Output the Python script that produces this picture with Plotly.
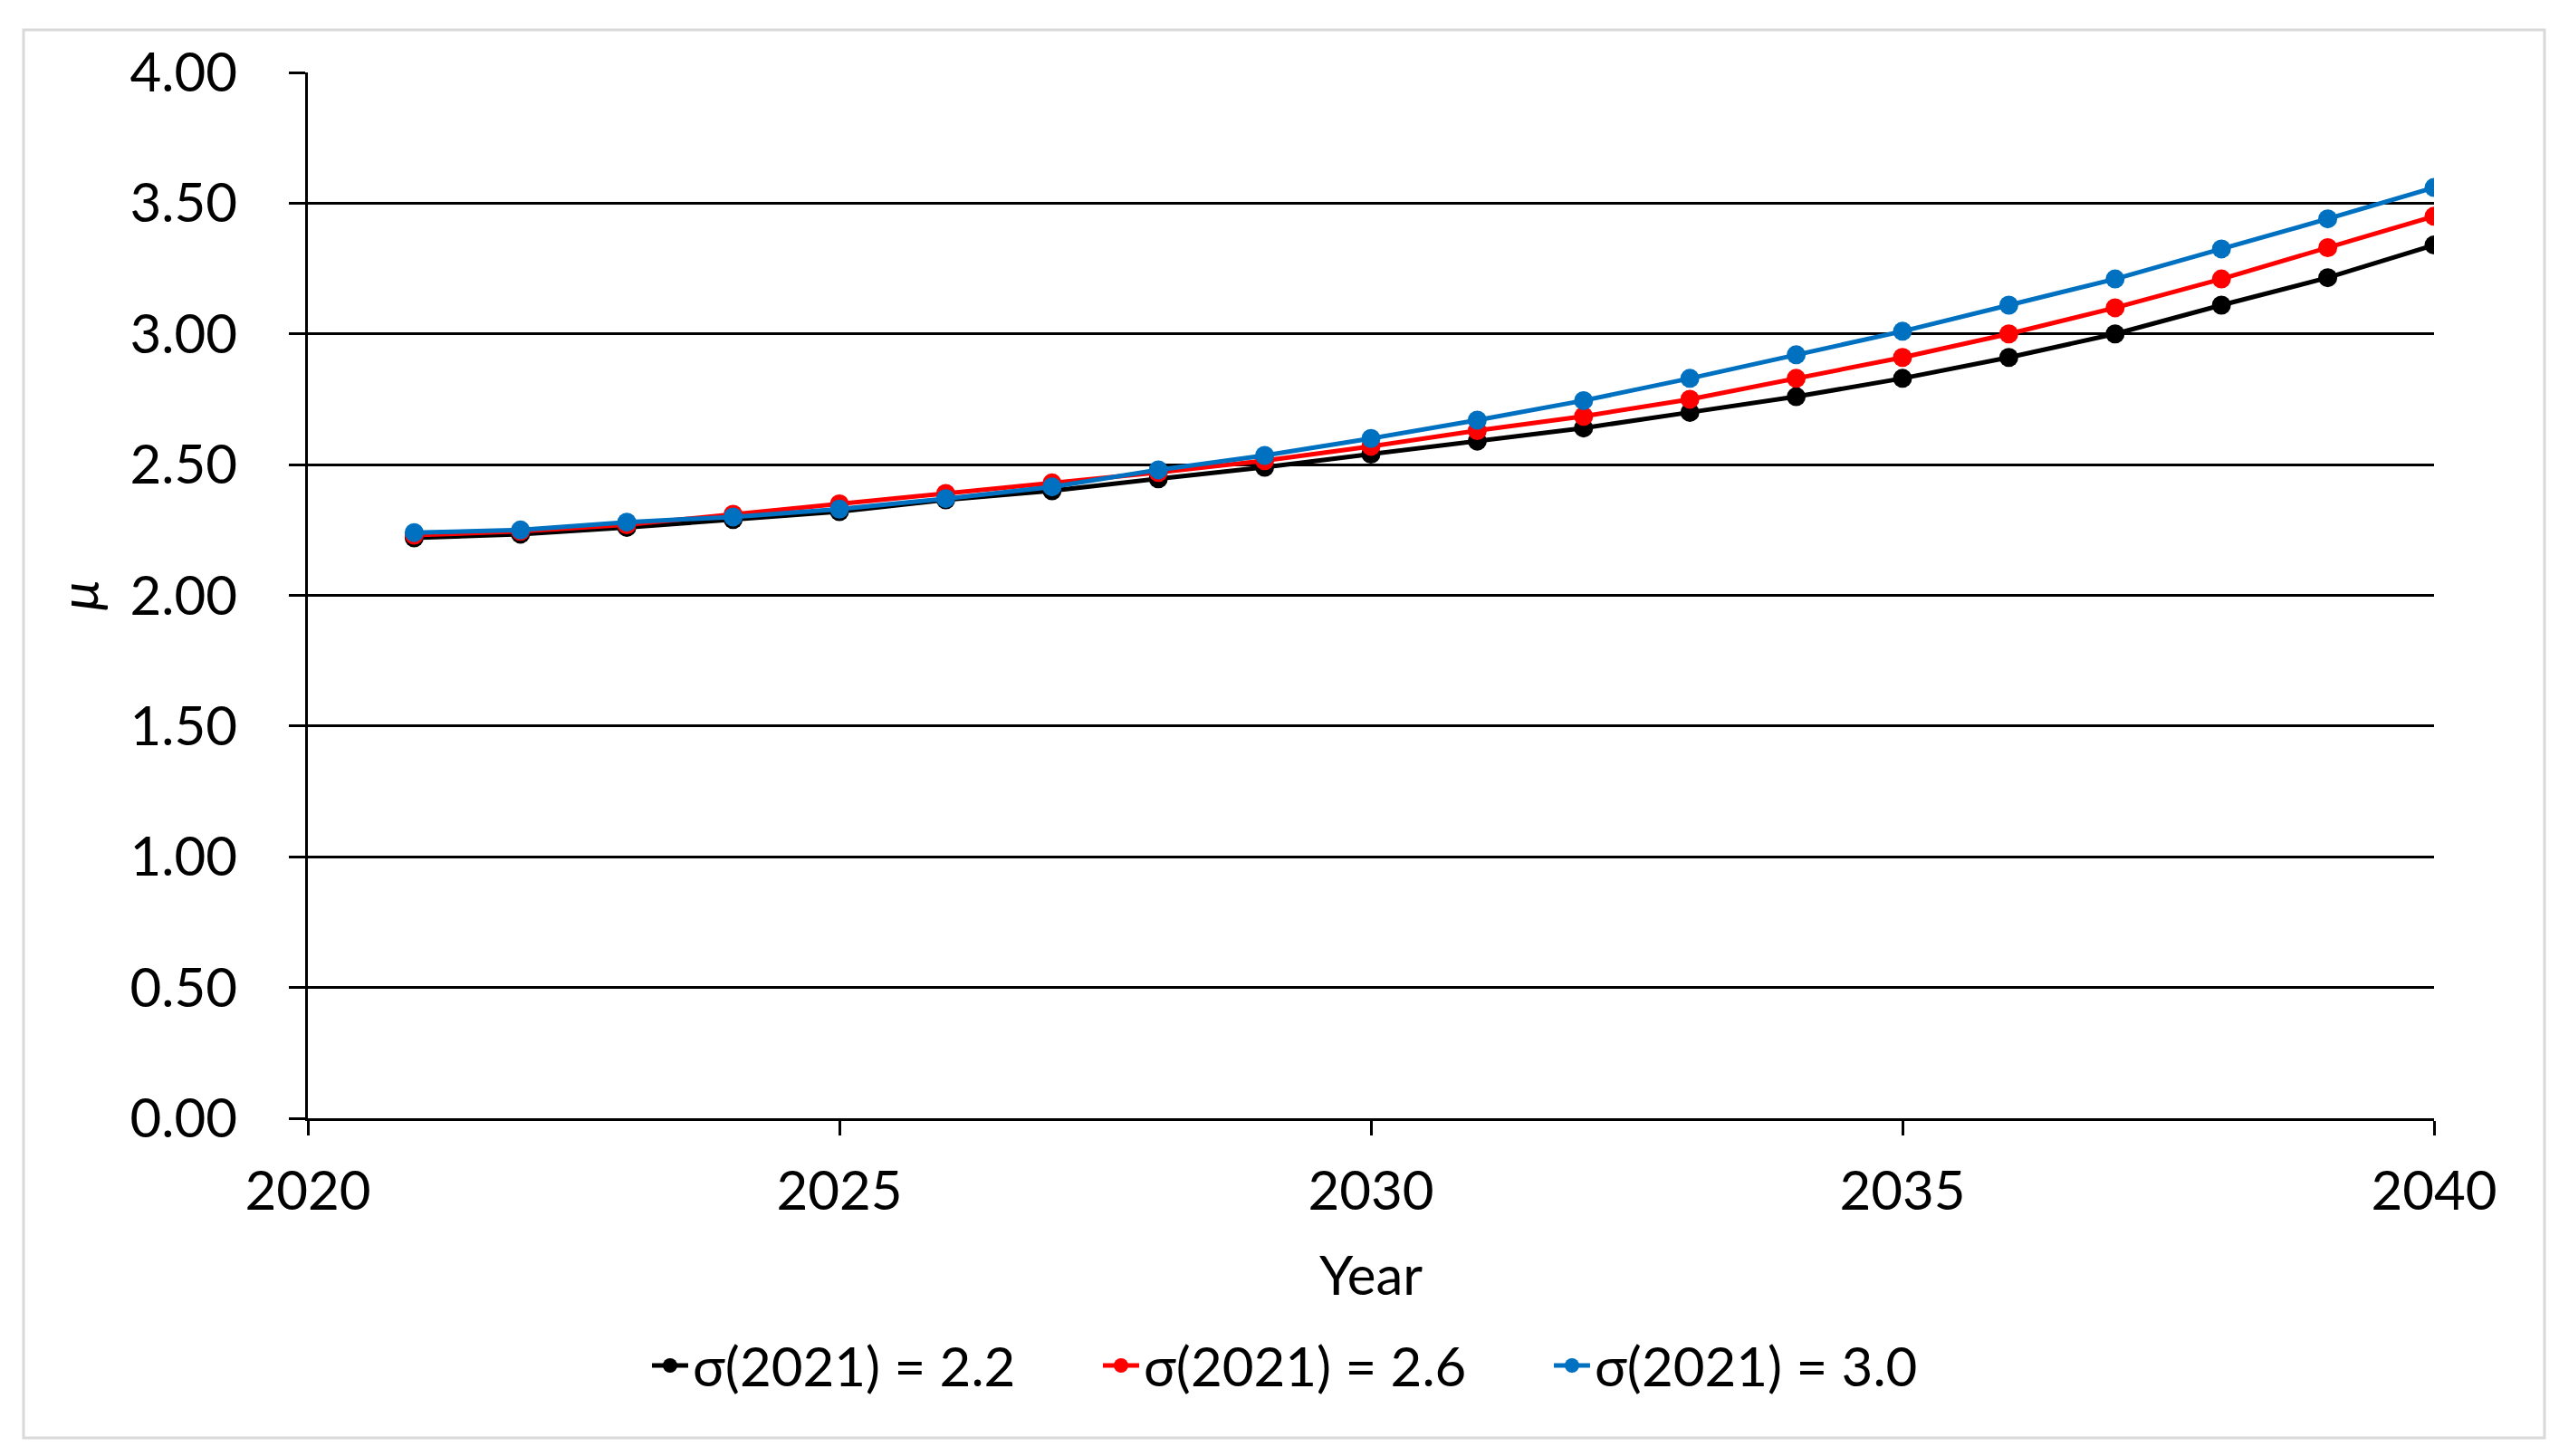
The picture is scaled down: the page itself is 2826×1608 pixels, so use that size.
import plotly.graph_objects as go

years = list(range(2021, 2041))
mu_sigma_22 = [2.22, 2.234, 2.26, 2.29, 2.32, 2.365, 2.40, 2.446, 2.49, 2.54,
               2.59, 2.64, 2.70, 2.76, 2.83, 2.91, 3.00, 3.11, 3.215, 3.34]
mu_sigma_26 = [2.23, 2.245, 2.27, 2.31, 2.35, 2.39, 2.43, 2.47, 2.515, 2.57,
               2.63, 2.685, 2.75, 2.83, 2.91, 3.00, 3.10, 3.21, 3.33, 3.45]
mu_sigma_30 = [2.24, 2.25, 2.28, 2.30, 2.33, 2.37, 2.415, 2.48, 2.535, 2.60,
               2.67, 2.745, 2.83, 2.92, 3.01, 3.11, 3.21, 3.325, 3.44, 3.56]
series_names = ["σ(2021) = 2.2", "σ(2021) = 2.6", "σ(2021) = 3.0"]
series_colors = ["#000000", "#FF0000", "#0070C0"]

W, H = 2826, 1608
L, R, T, B = 332, 146, 72, 381
FONT = "Lato"

fig = go.Figure()
for name, vals, col in zip(series_names, [mu_sigma_22, mu_sigma_26, mu_sigma_30], series_colors):
    fig.add_trace(go.Scatter(
        x=years, y=vals, name=name, mode="lines+markers",
        line=dict(color=col, width=5),
        marker=dict(color=col, size=21, symbol="circle"),
    ))

pw, ph = W - L - R, H - T - B
def px_x(p):
    return (p - L) / pw
def px_y(p):
    return (H - B - p) / ph

fig.add_shape(type="rect", xref="paper", yref="paper",
              x0=px_x(18), x1=px_x(2802), y0=px_y(1580), y1=px_y(25),
              line=dict(color="#D9D9D9", width=3), fillcolor="rgba(0,0,0,0)", layer="below")

fig.update_layout(
    width=W, height=H,
    margin=dict(l=L, r=R, t=T, b=B, autoexpand=False),
    paper_bgcolor="white", plot_bgcolor="white",
    font=dict(family=FONT, size=60, color="black"),
    showlegend=True,
    legend=dict(orientation="h", x=0.5145, xanchor="center", xref="container",
                y=px_y(1500), yanchor="middle",
                font=dict(size=60), itemwidth=40, tracegroupgap=0,
                entrywidth=443, entrywidthmode="pixels"),
    xaxis=dict(range=[2020, 2040], tick0=2020, dtick=5, showgrid=False,
               showline=True, linecolor="black", linewidth=3,
               ticks="outside", ticklen=16, tickwidth=3, tickcolor="black",
               tickfont=dict(size=60), ticklabelstandoff=10,
               title=dict(text="Year", font=dict(size=60), standoff=40),
               zeroline=False),
    yaxis=dict(range=[0, 4], tick0=0, dtick=0.5, tickformat=".2f",
               showgrid=True, gridcolor="black", gridwidth=3,
               showline=True, linecolor="black", linewidth=3,
               ticks="outside", ticklen=18, tickwidth=3, tickcolor="black",
               tickfont=dict(size=60), ticklabelstandoff=45,
               title=dict(text="<i>μ</i>", font=dict(size=60), standoff=15),
               zeroline=False),
)

fig.write_html("out.html")
